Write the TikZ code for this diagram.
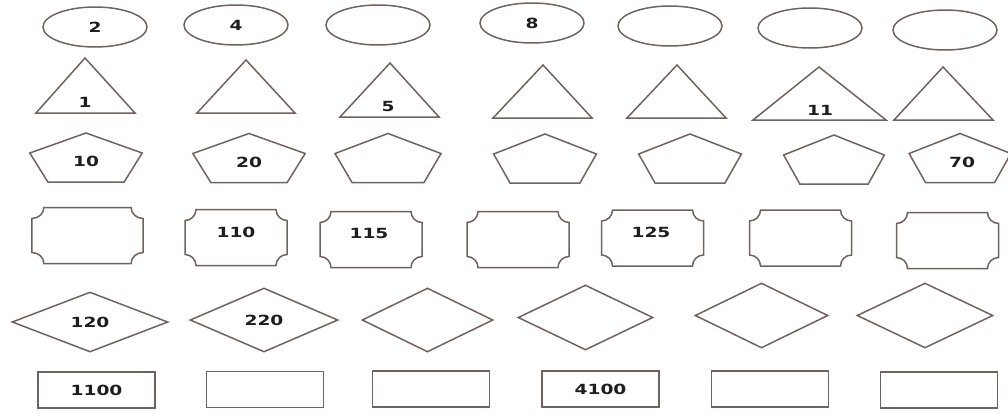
\documentclass[tikz,border=0pt]{standalone}
\usepackage{fontspec}
\newfontfamily\lblfont{DejaVu Sans}[FakeStretch=1.33]
\usetikzlibrary{shapes.geometric}
\definecolor{shpcol}{RGB}{112,98,95}
\definecolor{txtcol}{RGB}{30,30,30}

\begin{document}
\begin{tikzpicture}[
    x=1pt, y=-1pt,
    every node/.style={font=\lblfont\bfseries\fontsize{14}{14}\selectfont, text=txtcol},
    shp/.style={draw=shpcol, line width=1.5pt},
    oval/.style={shp, ellipse, minimum width=104pt, minimum height=40pt, inner sep=0pt},
    rhomb/.style={shp, diamond, aspect=2.3, inner sep=0pt},
    plainbox/.style={shp, rectangle, minimum width=117pt, minimum height=36pt, inner sep=0pt},
    lbl/.style={inner sep=0pt},
    pent/.pic={\draw[shp] (0,-24.5) -- (53,-4.5) -- (36,24.5) -- (-36,24.5) -- (-53,-4.5) -- cycle;},
    notch/.pic={\draw[shp] (-40,-28) -- (40,-28) .. controls (40,-22) and (45,-17) .. (51,-17)
      -- (51,17) .. controls (45,17) and (40,22) .. (40,28)
      -- (-40,28) .. controls (-40,22) and (-45,17) .. (-51,17)
      -- (-51,-17) .. controls (-45,-17) and (-40,-22) .. (-40,-28) -- cycle;}
  ]
    \useasboundingbox (0,0) rectangle (1008,413);
    % ovals
    \node[oval] (e1) at (95,27) {2};
    \node[oval] (e2) at (236,25) {4};
    \node[oval] (e3) at (378,25) {};
    \node[oval] (e4) at (532,23) {8};
    \node[oval] (e5) at (670,26) {};
    \node[oval] (e6) at (810,28) {};
    \node[oval] (e7) at (945,30) {};
    % triangles
    \draw[shp] (36,113) -- (85,58) -- (135,113) -- cycle;
    \draw[shp] (197,113) -- (246,60) -- (295,113) -- cycle;
    \draw[shp] (340,117) -- (390,63) -- (439,117) -- cycle;
    \draw[shp] (493,118) -- (543,65) -- (592,118) -- cycle;
    \draw[shp] (627,118) -- (677,65) -- (726,118) -- cycle;
    \draw[shp] (753,120) -- (819,67) -- (886,120) -- cycle;
    \draw[shp] (894,120) -- (943,67) -- (993,120) -- cycle;
    \node[lbl] (t1) at (85,102) {1};
    \node[lbl] (t3) at (388,106) {5};
    \node[lbl] (t6) at (820,110) {11};
    % pentagons
    \pic[xscale=1.06] at (86,157.5) {pent};
    \pic[xscale=1.06] at (249,158) {pent};
    \pic at (388,158) {pent};
    \pic[xscale=0.97] at (545,158.5) {pent};
    \pic[xscale=0.97] at (690,158.5) {pent};
    \pic[xscale=0.95] at (834,159.5) {pent};
    \pic[xscale=0.96] at (960,158) {pent};
    \node[lbl] (p1) at (86,161) {10};
    \node[lbl] (p2) at (249,162) {20};
    \node[lbl] (p7) at (962,162) {70};
    % notched boxes
    \pic[xscale=1.09] at (87.5,235.5) {notch};
    \pic at (236,237.5) {notch};
    \pic at (371,239.5) {notch};
    \pic at (518,239.5) {notch};
    \pic at (652.5,238) {notch};
    \pic at (800.5,238) {notch};
    \pic at (947.5,240.5) {notch};
    \node[lbl] (n2) at (236,232) {110};
    \node[lbl] (n3) at (369,233) {115};
    \node[lbl] (n5) at (651,232) {125};
    % diamonds
    \node[rhomb, minimum width=156pt, minimum height=60pt] (d1) at (90,322) {120};
    \node[rhomb, minimum width=148pt, minimum height=64pt] (d2) at (264,320) {220};
    \node[rhomb, minimum width=131pt, minimum height=64pt] (d3) at (427.5,320) {};
    \node[rhomb, minimum width=135pt, minimum height=65pt] (d4) at (585.5,317.5) {};
    \node[rhomb, minimum width=133pt, minimum height=65pt] (d5) at (761.5,315.5) {};
    \node[rhomb, minimum width=136pt, minimum height=65pt] (d6) at (925,315.5) {};
    % rectangles
    \node[plainbox] (r1) at (96.5,390) {1100};
    \node[plainbox] (r2) at (265,389.5) {};
    \node[plainbox] (r3) at (431,389) {};
    \node[plainbox] (r4) at (600.5,389) {4100};
    \node[plainbox] (r5) at (770,389) {};
    \node[plainbox] (r6) at (939,390) {};
\end{tikzpicture}
\end{document}
